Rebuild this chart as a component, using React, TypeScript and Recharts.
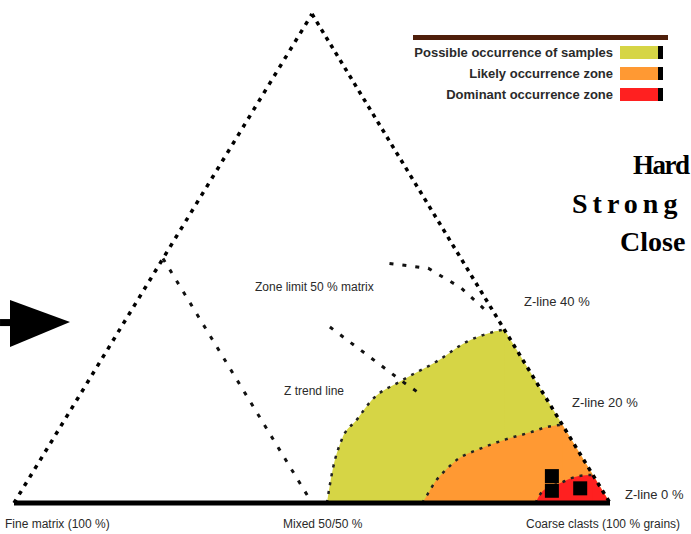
import React from "react";
import { ComposedChart, Area, Line, Scatter, XAxis, YAxis, Legend } from "recharts";

// Ternary values: share of the top corner and of the right corner in %,
// the left corner takes the rest.
// zone outlines: the curved part up to the right edge, then the edge down to the right corner
const possibleTop = [0, 7, 13, 17, 21, 25, 29, 33, 35, 35.5];
const possibleRight = [52.5, 50, 48.5, 49, 49.5, 52.5, 56.5, 59.5, 63, 64.5];
const possibleEdgeTop = [35, 35.5, 0];
const possibleEdgeRight = [63, 64.5, 100];

const likelyTop = [0, 2, 4.5, 6.5, 9, 11, 13, 14.5, 15.5, 16];
const likelyRight = [68.5, 68.5, 68.5, 69, 70, 72.5, 76, 79.5, 81.5, 84];
const likelyEdgeTop = [15.5, 16, 0];
const likelyEdgeRight = [81.5, 84, 100];

const coreTop = [0, 2.5, 4, 5.5, 5.75];
const coreRight = [87.5, 87.5, 89.5, 92, 94.25];
const coreEdgeTop = [5.5, 5.75, 0];
const coreEdgeRight = [92, 94.25, 100];

const sampleTop = [5.5, 2.5, 3];
const sampleRight = [87.5, 89, 93.5];

// frame and guide lines
const leftEdgeTop = [0, 100];
const leftEdgeRight = [0, 0];
const rightEdgeTop = [100, 0];
const rightEdgeRight = [0, 100];
const baseTop = [0, 0];
const baseRight = [0, 100];
const halfLineTop = [50, 0];
const halfLineRight = [0, 50];
const trendATop = [36, 25, 22];
const trendARight = [35, 52.5, 57.5];
const trendBTop = [49, 48, 44, 39];
const trendBRight = [38.5, 45.5, 53, 60];

const zoneNames = ["Possible occurrence of samples", "Likely occurrence zone", "Dominant occurrence zone"];
const zoneColors = ["#D6D545", "#FF9933", "#FF2020"];

const pointerAt = [{ x: 9.4, y: 37 }];

// ternary -> plot units (x 0..100 along the base, y 0..100 up to the apex)
const toXY = (tops: number[], rights: number[]) =>
  tops.map((t, i) => ({ x: rights[i] + t / 2, y: t }));

const W = 691;
const H = 534;

const small: React.CSSProperties = {
  position: "absolute",
  fontFamily: "'Liberation Sans', Arial, sans-serif",
  fontSize: 12,
  lineHeight: "14px",
  color: "#2a2a2a",
  whiteSpace: "nowrap",
};

const big: React.CSSProperties = {
  position: "absolute",
  fontFamily: "'Liberation Serif', serif",
  fontWeight: 700,
  fontSize: 28,
  lineHeight: "28px",
  color: "#000",
  whiteSpace: "nowrap",
};

const ZoneKey = () => (
  <div style={{ borderTop: "5px solid #4F1F0B", paddingTop: 6, width: 255, boxSizing: "border-box" }}>
    {zoneNames.map((name, i) => (
      <div
        key={name}
        style={{ display: "flex", justifyContent: "flex-end", alignItems: "center", height: 13, marginBottom: 8, paddingRight: 5 }}
      >
        <span style={{ fontFamily: "'Liberation Sans', Arial, sans-serif", fontSize: 13, fontWeight: 700, color: "#2a2a2a", marginRight: 7 }}>
          {name}
        </span>
        <span style={{ display: "inline-block", width: 38, height: 13, background: zoneColors[i], borderRight: "5px solid #000" }} />
      </div>
    ))}
  </div>
);

const Pointer = (props: any) => {
  const { cx, cy } = props;
  return (
    <g>
      <polygon points={`${cx},${cy} ${cx - 60},${cy - 22} ${cx - 60},${cy + 25}`} fill="#000" />
      <rect x={cx - 70} y={cy - 3} width={12} height={7} fill="#000" />
    </g>
  );
};

const SampleMark = (props: any) => {
  const { cx, cy } = props;
  return <rect x={cx - 7} y={cy - 7} width={14} height={14} fill="#000" />;
};

const zoneArea = (key: string, tops: number[], rights: number[], color: string, curved: boolean) => (
  <Area
    key={key}
    data={toXY(tops, rights)}
    dataKey="y"
    type={curved ? "monotoneX" : "linear"}
    fill={color}
    fillOpacity={1}
    stroke={curved ? "#222" : "none"}
    strokeWidth={2.5}
    strokeDasharray="3 6"
    isAnimationActive={false}
    legendType="none"
  />
);

const guide = (key: string, tops: number[], rights: number[]) => (
  <Line
    key={key}
    data={toXY(tops, rights)}
    dataKey="y"
    stroke="#111"
    strokeWidth={3}
    strokeDasharray="4 9"
    dot={false}
    isAnimationActive={false}
    legendType="none"
  />
);

export default function App() {
  return (
    <div style={{ position: "absolute", left: 0, top: 0, width: W, height: H, overflow: "hidden", background: "#fff" }}>
      <ComposedChart width={W} height={H} margin={{ top: 14, left: 14, right: 81, bottom: 31 }}>
        <XAxis type="number" dataKey="x" domain={[0, 100]} hide />
        <YAxis type="number" dataKey="y" domain={[0, 100]} hide />
        <Legend
          layout="vertical"
          align="center"
          verticalAlign="middle"
          wrapperStyle={{ left: 413, top: 35, width: 255 }}
          content={() => <ZoneKey />}
        />
        {zoneArea("possibleEdge", possibleEdgeTop, possibleEdgeRight, zoneColors[0], false)}
        {zoneArea("possible", possibleTop, possibleRight, zoneColors[0], true)}
        {zoneArea("likelyEdge", likelyEdgeTop, likelyEdgeRight, zoneColors[1], false)}
        {zoneArea("likely", likelyTop, likelyRight, zoneColors[1], true)}
        {zoneArea("coreEdge", coreEdgeTop, coreEdgeRight, zoneColors[2], false)}
        {zoneArea("core", coreTop, coreRight, zoneColors[2], true)}
        {guide("half", halfLineTop, halfLineRight)}
        {guide("trendA", trendATop, trendARight)}
        {guide("trendB", trendBTop, trendBRight)}
        <Line data={toXY(leftEdgeTop, leftEdgeRight)} dataKey="y" stroke="#000" strokeWidth={3.5}
          strokeDasharray="4 6" dot={false} isAnimationActive={false} legendType="none" />
        <Line data={toXY(rightEdgeTop, rightEdgeRight)} dataKey="y" stroke="#000" strokeWidth={3.5}
          strokeDasharray="4 5" dot={false} isAnimationActive={false} legendType="none" />
        <Line data={toXY(baseTop, baseRight)} dataKey="y" stroke="#000" strokeWidth={5}
          dot={false} isAnimationActive={false} legendType="none" />
        <Scatter data={toXY(sampleTop, sampleRight)} dataKey="y" shape={SampleMark} isAnimationActive={false} legendType="none" />
        <Scatter data={pointerAt} dataKey="y" shape={Pointer} isAnimationActive={false} legendType="none" />
      </ComposedChart>

      <div style={{ ...big, left: 633, top: 151, fontSize: 27, letterSpacing: -1.5 }}>Hard</div>
      <div style={{ ...big, left: 572, top: 190, letterSpacing: 5 }}>Strong</div>
      <div style={{ ...big, left: 620, top: 228 }}>Close</div>

      <div style={{ ...small, left: 255, top: 280 }}>Zone limit 50 % matrix</div>
      <div style={{ ...small, left: 284, top: 384 }}>Z trend line</div>
      <div style={{ ...small, left: 524, top: 295, fontSize: 13 }}>Z-line 40 %</div>
      <div style={{ ...small, left: 572, top: 396, fontSize: 13 }}>Z-line 20 %</div>
      <div style={{ ...small, left: 625, top: 488, fontSize: 13 }}>Z-line 0 %</div>
      <div style={{ ...small, left: 5, top: 517 }}>Fine matrix (100 %)</div>
      <div style={{ ...small, left: 283, top: 517 }}>Mixed 50/50 %</div>
      <div style={{ ...small, left: 526, top: 517 }}>Coarse clasts (100 % grains)</div>
    </div>
  );
}
